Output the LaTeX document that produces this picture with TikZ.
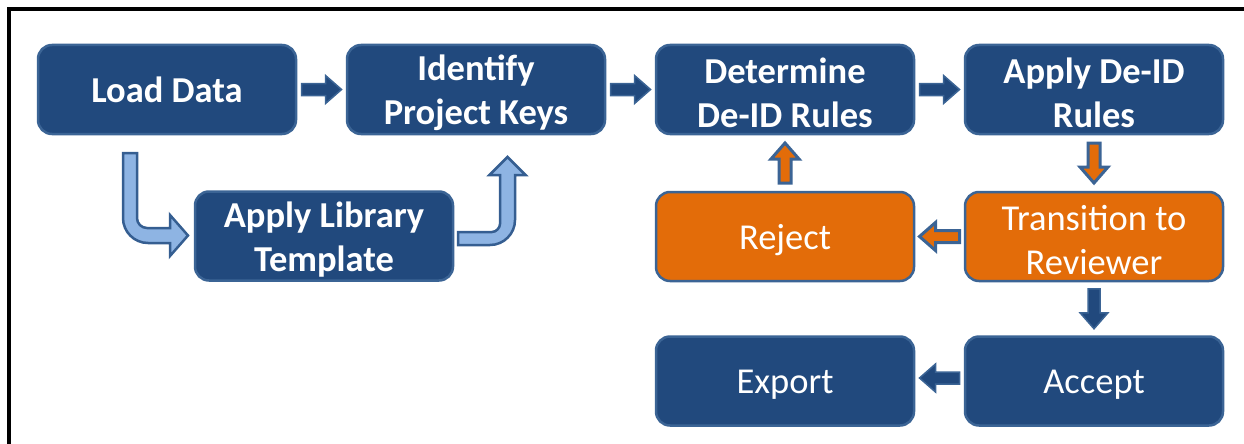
\documentclass[tikz,border=0pt]{standalone}
\usepackage{fontspec}
\setmainfont{Carlito}
\usetikzlibrary{calc}
\definecolor{boxblue}{RGB}{33,73,125}
\definecolor{edgeblue}{RGB}{59,100,149}
\definecolor{boxorange}{RGB}{227,108,9}
\definecolor{lightblue}{RGB}{142,180,227}
\definecolor{bentedge}{RGB}{53,94,145}
\tikzset{
  box/.style={draw=edgeblue, line width=2.5pt, fill=boxblue, rounded corners=14pt,
    minimum width=258pt, minimum height=89pt, inner sep=0pt, text=white, align=center,
    font=\fontsize{36.5}{44}\selectfont, text height=25.4pt, text depth=0pt},
  boldbox/.style={box, font=\fontsize{36.5}{44}\selectfont\bfseries},
  orangebox/.style={box, fill=boxorange},
  txt/.style={text=white, align=center, inner sep=0pt, yshift=-3.5pt,
    font=\fontsize{36.5}{44}\selectfont},
  btxt/.style={txt, font=\fontsize{36.5}{44}\selectfont\bfseries},
  darkarrow/.style={fill=boxblue, draw=edgeblue, line width=1.5pt, line join=miter},
  orangearrow/.style={fill=boxorange, draw=edgeblue, line width=3pt, line join=miter},
  bentarrow/.style={fill=lightblue, draw=bentedge, line width=2.5pt, line join=miter},
  blockarr/.pic={\path[pic actions] (-20,-6) -- (4,-6) -- (4,-14) -- (20,0) -- (4,14) -- (4,6) -- (-20,6) -- cycle;}
}
\begin{document}
\begin{tikzpicture}[x=1pt,y=-1pt]
\useasboundingbox (0,0) rectangle (1244,444);
% frame
\draw[line width=4pt] (9,444) -- (9,9) -- (1244,9);
% boxes
\node[boldbox] (load) at (167,89.5) {Load Data};
\node[boldbox, label={[btxt]center:{Identify\\Project Keys}}] (keys) at (476,89.5) {};
\node[boldbox, label={[btxt]center:{Determine\\De-ID Rules}}] (det) at (785,89.5) {};
\node[boldbox, label={[btxt]center:{Apply De-ID\\Rules}}] (apply) at (1094,89.5) {};
\node[boldbox, label={[btxt]center:{Apply Library\\Template}}] (lib) at (324,236) {};
\node[orangebox] (reject) at (785,236.5) {Reject};
\node[orangebox, label={[txt]center:{Transition to\\Reviewer}}] (trans) at (1094,236.5) {};
\node[box] (export) at (785,381) {Export};
\node[box] (accept) at (1094,381) {Accept};
% straight block arrows
\pic[darkarrow] at ($(load.east)!0.5!(keys.west)$) {blockarr};
\pic[darkarrow] at ($(keys.east)!0.5!(det.west)$) {blockarr};
\pic[darkarrow] at ($(det.east)!0.5!(apply.west)$) {blockarr};
\pic[orangearrow, rotate=-90] at ($(apply.south)!0.5!(trans.north)$) {blockarr};
\pic[orangearrow, rotate=180] at ($(trans.west)!0.5!(reject.east)$) {blockarr};
\pic[orangearrow, rotate=90] at ($(reject.north)!0.5!(det.south)$) {blockarr};
\pic[darkarrow, rotate=-90] at ($(trans.south)!0.5!(accept.north)$) {blockarr};
\pic[darkarrow, rotate=180] at ($(accept.west)!0.5!(export.east)+(0,-3)$) {blockarr};
% bent arrows
\draw[bentarrow] (123,153) -- (123,218) .. controls (123,231.8) and (134.2,243) .. (148,243)
  -- (170,243) -- (170,256) -- (188,235.5) -- (170,215) -- (170,228) -- (147,228)
  .. controls (141.5,228) and (137,223.5) .. (137,218) -- (137,153) -- cycle;
\draw[bentarrow] (458,232) -- (492,232) .. controls (496.4,232) and (500,227.6) .. (500,224)
  -- (500,175) -- (489.5,175) -- (507.5,157) -- (525.5,175) -- (515,175) -- (515,220)
  .. controls (515,233.8) and (503.8,245) .. (490,245) -- (458,245) -- cycle;
\end{tikzpicture}
\end{document}
